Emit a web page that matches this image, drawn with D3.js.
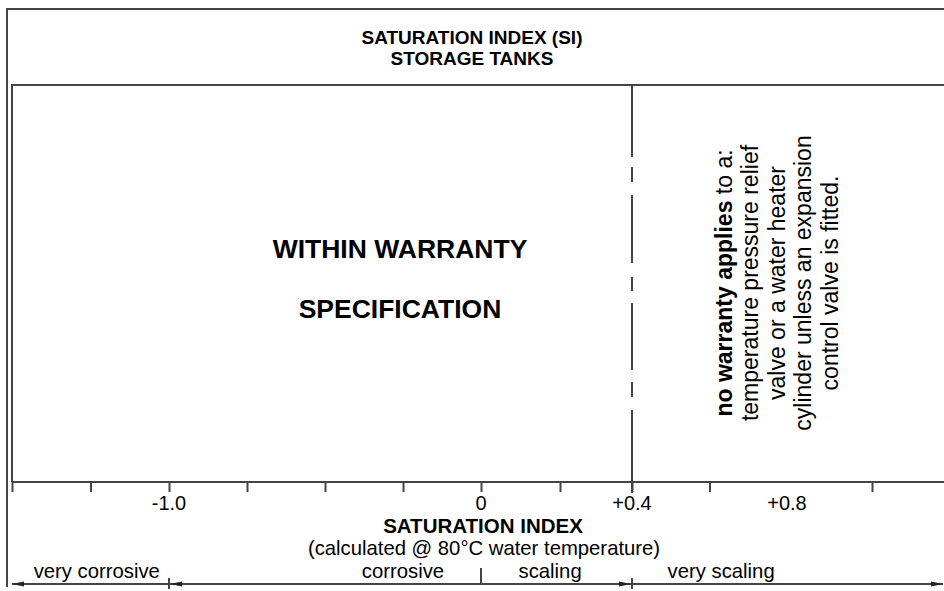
<!DOCTYPE html>
<html><head><meta charset="utf-8">
<script src="https://cdn.jsdelivr.net/npm/d3@7"></script>
<style>
body{margin:0;background:#fff}
svg{display:block}
text{font-family:"Liberation Sans",Arial,Helvetica,sans-serif;fill:#000}
</style>
</head><body>
<svg id="chart" width="944" height="591"></svg>
<script>
// ---- data ----
const titleLines = ["SATURATION INDEX (SI)", "STORAGE TANKS"];
const zoneLines = ["WITHIN WARRANTY", "SPECIFICATION"];
const axisBreaks = [-1.5, -1.0, 0, 0.2, 0.4, 0.8, 1.0];
const tickValues = [-1.5, -1.25, -1.0, -0.75, -0.5, -0.25, 0, 0.2, 0.4, 0.6, 1.0];
const labelValues = [-1.0, 0, 0.4, 0.8];
const labelTexts = ["-1.0", "0", "+0.4", "+0.8"];
const axisTitle = "SATURATION INDEX";
const axisSubtitle = "(calculated @ 80°C water temperature)";
const warrantyLimit = 0.4;
const rangeNames = ["very corrosive", "corrosive", "scaling", "very scaling"];
const rangeLabelAt = [-1.23, -0.25, 0.175, 0.63];
const rangeDividers = [-1.0, 0, 0.4];
const noteBold = "no warranty applies";
const noteLines = [" to a:", "temperature pressure relief", "valve or a water heater",
                   "cylinder unless an expansion", "control valve is fitted."];

// ---- layout ----
const W = 944, H = 591;
const svg = d3.select("#chart");
const lineCol = "#444";
const frame = {left: 7, top: 9};
const plot = {left: 12, top: 85, bottom: 482, right: W};
const arrowY = 584;

const x = d3.scaleLinear()
  .domain(axisBreaks)
  .range([12, 169, 481, 560, 632, 787, 872]);

// outer frame
svg.append("path")
  .attr("d", `M${W},${frame.top}H${frame.left}V${H - 4}`)
  .attr("fill", "none").attr("stroke", lineCol).attr("stroke-width", 2);
// inner box
svg.append("path")
  .attr("d", `M${W},${plot.top}H${plot.left}V${plot.bottom}`)
  .attr("fill", "none").attr("stroke", lineCol).attr("stroke-width", 2);

// title
svg.append("g").selectAll("text").data(titleLines).join("text")
  .attr("x", 472).attr("y", (d, i) => 44 + i * 21)
  .attr("text-anchor", "middle").attr("font-weight", "bold").attr("font-size", 19)
  .text(d => d);

// axis
const axis = d3.axisBottom(x).tickValues(tickValues).tickSize(10).tickFormat("");
const gAxis = svg.append("g").attr("transform", `translate(0,${plot.bottom})`).call(axis);
gAxis.select(".domain").attr("stroke", lineCol).attr("stroke-width", 2).attr("d", `M${plot.left},0H${W}`);
gAxis.selectAll(".tick line").attr("stroke", lineCol).attr("stroke-width", 2);

svg.append("g").selectAll("text").data(labelValues).join("text")
  .attr("x", d => x(d)).attr("y", 509.5)
  .attr("text-anchor", "middle").attr("font-size", 20)
  .text((d, i) => labelTexts[i]);

// warranty limit dashed line
svg.append("line")
  .attr("x1", x(warrantyLimit)).attr("x2", x(warrantyLimit))
  .attr("y1", plot.top).attr("y2", plot.bottom + 11)
  .attr("stroke", lineCol).attr("stroke-width", 2)
  .attr("stroke-dasharray", "72,10,15,13,68,14,14,12,67,12,15,13,300");

// zone label
svg.append("g").selectAll("text").data(zoneLines).join("text")
  .attr("x", 400).attr("y", (d, i) => 258 + i * 60)
  .attr("text-anchor", "middle").attr("font-weight", "bold").attr("font-size", 26.5)
  .text(d => d);

// rotated note
const note = svg.append("text")
  .attr("transform", `translate(784,283) rotate(-90)`)
  .attr("text-anchor", "middle").attr("font-size", 23);
noteLines.forEach((t, i) => {
  if (i === 0) {
    note.append("tspan").attr("x", 0).attr("y", -52.5).attr("font-weight", "bold").text(noteBold);
    note.append("tspan").text(t);
  } else {
    note.append("tspan").attr("x", 0).attr("y", -52.5 + i * 26.5).text(t);
  }
});

// axis titles
svg.append("text").attr("x", x(0) + 2).attr("y", 532.5)
  .attr("text-anchor", "middle").attr("font-weight", "bold").attr("font-size", 20.5)
  .text(axisTitle);
svg.append("text").attr("x", x(0) + 3).attr("y", 555)
  .attr("text-anchor", "middle").attr("font-size", 20.3)
  .text(axisSubtitle);

// range labels
svg.append("g").selectAll("text").data(rangeNames).join("text")
  .attr("x", (d, i) => x(rangeLabelAt[i])).attr("y", 578)
  .attr("text-anchor", "middle").attr("font-size", 20.3)
  .text(d => d);

// range arrows
const ah = 12, aw = 2.6;
function head(px, dir) { // dir -1 left, +1 right; tip at px
  svg.append("path")
    .attr("d", `M${px},${arrowY}L${px - dir * ah},${arrowY - aw}L${px - dir * ah},${arrowY + aw}Z`)
    .attr("fill", "#222");
}
const xEnd = W - 1;
svg.append("line").attr("x1", x(axisBreaks[0])).attr("x2", xEnd)
  .attr("y1", arrowY).attr("y2", arrowY).attr("stroke", lineCol).attr("stroke-width", 2);
head(x(axisBreaks[0]), -1);
head(x(rangeDividers[0]) + 1, -1);
head(x(rangeDividers[2]) - 1, 1);
head(xEnd, 1);
// divider ticks
svg.append("g").selectAll("line").data(rangeDividers).join("line")
  .attr("x1", d => x(d)).attr("x2", d => x(d))
  .attr("y1", d => d === 0 ? arrowY - 16 : arrowY - 6)
  .attr("y2", d => d === 0 ? arrowY : arrowY + 5)
  .attr("stroke", lineCol).attr("stroke-width", 2);
</script>
</body></html>
